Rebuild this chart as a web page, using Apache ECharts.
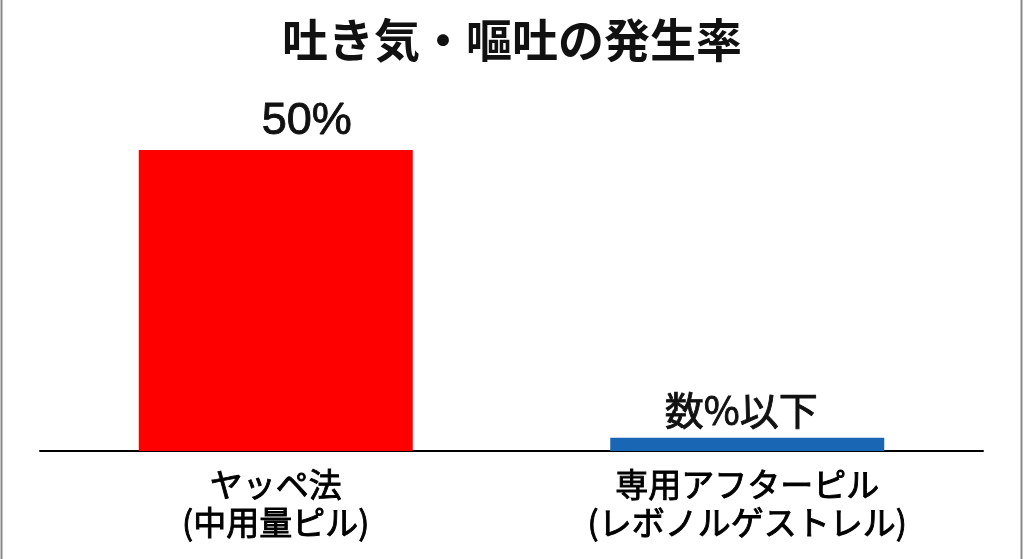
<!DOCTYPE html>
<html>
<head>
<meta charset="utf-8">
<script src="https://cdn.jsdelivr.net/npm/echarts@6/dist/echarts.min.js"></script>
<style>
html,body{margin:0;padding:0;background:#fff;}
#chart{width:1024px;height:559px;}
</style>
</head>
<body>
<div id="chart"></div>
<script>
const titleText = '吐き気・嘔吐の発生率';
const categories = ['ヤッペ法\n(中用量ピル)', '専用アフターピル\n(レボノルゲストレル)'];
const values = [50, 2.2];
const valueLabels = ['50%', '数%以下'];
const barColors = ['#ff0000', '#1866b4'];

const font = '"Noto Sans CJK JP", "Noto Sans", sans-serif';
const chart = echarts.init(document.getElementById('chart'), null, {renderer: 'canvas'});
chart.setOption({
  backgroundColor: '#ffffff',
  animation: false,
  title: {
    text: titleText,
    left: 'center',
    top: 12,
    textStyle: {fontFamily: font, fontSize: 46, fontWeight: 'bold', color: '#111'}
  },
  grid: {left: 40, right: 41, top: 150, bottom: 108, containLabel: false},
  xAxis: {
    type: 'category',
    data: categories,
    axisLine: {show: true, lineStyle: {color: '#000', width: 2}},
    axisTick: {show: false},
    axisLabel: {
      interval: 0,
      margin: 14,
      fontFamily: font,
      fontSize: 33,
      lineHeight: 38,
      color: '#000',
      textBorderColor: '#000',
      textBorderWidth: 0.9
    }
  },
  yAxis: {
    type: 'value',
    min: 0,
    max: 50,
    show: false,
    splitLine: {show: false}
  },
  series: [{
    type: 'bar',
    barWidth: 274,
    data: values.map((v, i) => ({
      value: v,
      itemStyle: {color: barColors[i]},
      label: {
        show: true,
        position: 'top',
        distance: i === 0 ? 6 : 8,
        offset: i === 0 ? [31, 0] : [-6, 0],
        formatter: valueLabels[i],
        fontFamily: i === 0 ? '"Liberation Sans", Arial, sans-serif' : font,
        fontSize: i === 0 ? 45 : 39,
        color: '#111',
        textBorderColor: '#111',
        textBorderWidth: 0.9
      }
    }))
  }],
  graphic: [
    {type: 'line', shape: {x1: 1.5, y1: 0, x2: 1.5, y2: 559}, style: {stroke: '#888', lineWidth: 2}},
    {type: 'line', shape: {x1: 1021.5, y1: 0, x2: 1021.5, y2: 559}, style: {stroke: '#888', lineWidth: 2}}
  ]
});
</script>
</body>
</html>
